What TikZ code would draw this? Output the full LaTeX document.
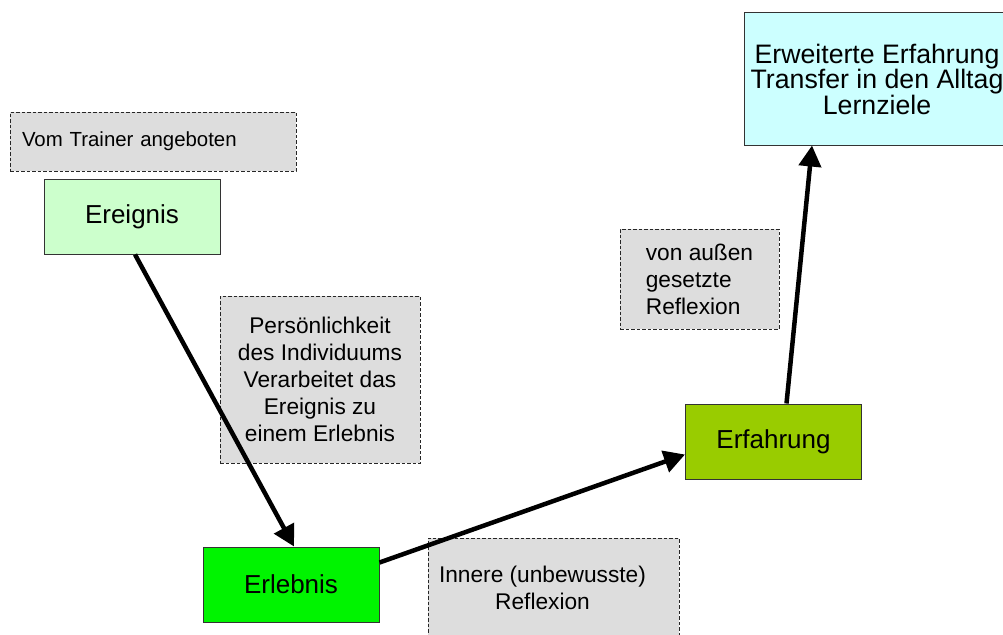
\documentclass[tikz,border=0pt]{standalone}
\usepackage{fontspec}
\setmainfont{Liberation Sans}
\usetikzlibrary{arrows.meta}
\definecolor{zielblau}{HTML}{CCFFFF}
\definecolor{ereignisgruen}{HTML}{CCFFCC}
\definecolor{erlebnisgruen}{HTML}{00F400}
\definecolor{erfahrungsgruen}{HTML}{99CC00}
\definecolor{notizgrau}{HTML}{DDDDDD}

\begin{document}
\begin{tikzpicture}[x=1pt,y=-1pt,
	box/.style={draw=black!80,line width=1pt,inner sep=0pt,minimum width=176pt,minimum height=75pt,font=\fontsize{26}{30}\selectfont},
	notiz/.style={draw=black!85,dash pattern=on 3.5pt off 2pt,line width=1pt,fill=notizgrau,inner sep=0pt,font=\fontsize{22.7}{27}\selectfont},
	pfeil/.style={line width=4.5pt,-{Triangle[length=21pt,width=22pt]}}]
			\useasboundingbox (0,0) rectangle (1003,634);
			\node[box,fill=zielblau,minimum width=266pt,minimum height=132pt,align=center,font=\fontsize{26.7}{25.5}\selectfont] (ziel) at (877,79) {Erweiterte Erfahrung\\Transfer in den Alltag\\Lernziele};
			\node[notiz,text width=262pt,inner xsep=12pt,minimum height=59pt,align=left,font=\fontsize{20.4}{24}\selectfont] (trainer) at (153,141.5) {Vom Trainer angeboten};
			\node[box,fill=ereignisgruen] (ereignis) at (132,216.5) {Ereignis};
			\node[notiz,minimum width=200pt,minimum height=167pt,align=center] (persoenlichkeit) at (320,379.5) {Persönlichkeit\\des Individuums\\Verarbeitet das\\Ereignis zu\\einem Erlebnis};
			\node[box,fill=erlebnisgruen] (erlebnis) at (291,584.5) {Erlebnis};
			\node[notiz,minimum width=251pt,minimum height=100pt,align=center] (innere) at (553.5,588) {Innere (unbewusste)\hspace*{22pt}\\Reflexion\hspace*{22pt}};
			\node[notiz,minimum width=159pt,minimum height=100pt,align=left] (aussen) at (699.5,279) {von außen\\gesetzte\\Reflexion};
			\node[box,fill=erfahrungsgruen] (erfahrung) at (773.5,441.5) {Erfahrung};
			\draw[pfeil] ([xshift=3pt]ereignis.south) -- ([xshift=3pt]erlebnis.north);
			\draw[pfeil] ([yshift=22pt]erlebnis.east) -- ([yshift=-13pt]erfahrung.west);
			\draw[pfeil] ([xshift=13pt]erfahrung.north) -- ([xshift=-65pt]ziel.south);
		\end{tikzpicture}
\end{document}
